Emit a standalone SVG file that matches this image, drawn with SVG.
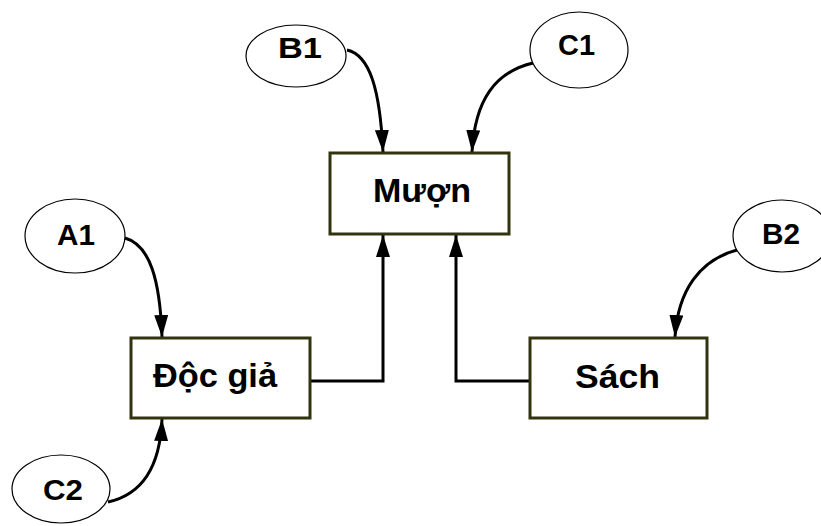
<svg xmlns="http://www.w3.org/2000/svg" width="821" height="526" viewBox="0 0 821 526">
<style>
.box{fill:#fff;stroke:#33330f;stroke-width:3}
.ell{fill:#fff;stroke:#000;stroke-width:1.2}
.lbl{font-family:"Liberation Sans",Arial,sans-serif;font-weight:bold;fill:#000}
.big{font-size:34px}
.sm{font-size:29px}
.con{fill:none;stroke:#000;stroke-width:3}
</style>
<defs>
<marker id="ah" viewBox="0 0 22 14" refX="22" refY="7" markerWidth="22" markerHeight="14" markerUnits="userSpaceOnUse" orient="auto">
<path d="M0,0 L22,7 L0,14 z" fill="#000"/>
</marker>
</defs>
<rect width="821" height="526" fill="#fff"/>
<g id="connectors">
<path class="con" d="M347,50 C370,55 380,90 383,152" marker-end="url(#ah)"/>
<path class="con" d="M533,63 C495,72 475,100 472,152" marker-end="url(#ah)"/>
<path class="con" d="M125,238 C150,245 160,280 162,337" marker-end="url(#ah)"/>
<path class="con" d="M108,502 C140,495 160,470 162,419" marker-end="url(#ah)"/>
<path class="con" d="M737,250 C700,260 678,290 675,337" marker-end="url(#ah)"/>
<path class="con" d="M310,381 H383 V235" marker-end="url(#ah)"/>
<path class="con" d="M530,381 H456 V235" marker-end="url(#ah)"/>
</g>
<g id="muon">
<rect class="box" x="330" y="153" width="179" height="81"/>
<text class="lbl big" x="373" y="202" textLength="98" lengthAdjust="spacingAndGlyphs">Mượn</text>
</g>
<g id="docgia">
<rect class="box" x="131" y="338" width="179" height="80"/>
<text class="lbl big" x="153" y="387" textLength="124" lengthAdjust="spacingAndGlyphs">Độc giả</text>
</g>
<g id="sach">
<rect class="box" x="530" y="338" width="177" height="80"/>
<text class="lbl big" x="575" y="388" textLength="85" lengthAdjust="spacingAndGlyphs">Sách</text>
</g>
<g id="b1">
<ellipse class="ell" cx="296" cy="56" rx="50" ry="31"/>
<text class="lbl sm" x="278" y="58" textLength="44" lengthAdjust="spacingAndGlyphs">B1</text>
</g>
<g id="c1">
<ellipse class="ell" cx="579" cy="50" rx="49" ry="38"/>
<text class="lbl sm" x="558" y="55" textLength="37" lengthAdjust="spacingAndGlyphs">C1</text>
</g>
<g id="a1">
<ellipse class="ell" cx="75" cy="236" rx="50" ry="37"/>
<text class="lbl sm" x="57" y="245" textLength="38" lengthAdjust="spacingAndGlyphs">A1</text>
</g>
<g id="c2">
<ellipse class="ell" cx="61" cy="489" rx="49" ry="34"/>
<text class="lbl sm" x="43" y="500" textLength="40" lengthAdjust="spacingAndGlyphs">C2</text>
</g>
<g id="b2">
<ellipse class="ell" cx="782" cy="236" rx="49" ry="36"/>
<text class="lbl sm" x="762" y="244" textLength="38" lengthAdjust="spacingAndGlyphs">B2</text>
</g>
</svg>
